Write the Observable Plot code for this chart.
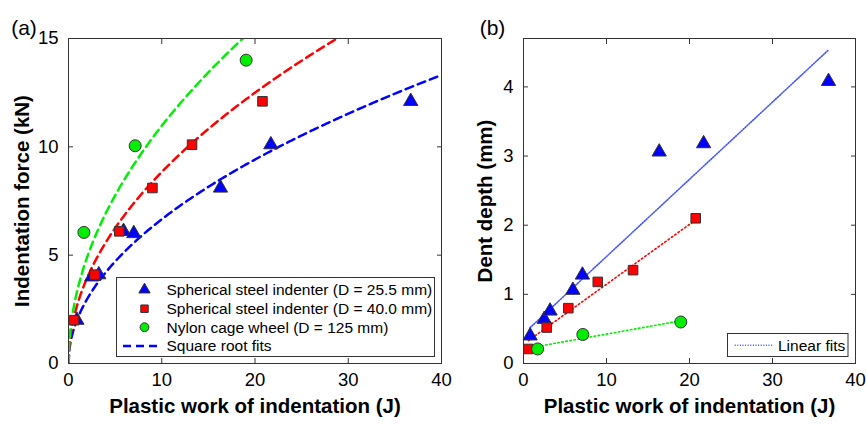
<!DOCTYPE html>
<html>
<head>
<meta charset="utf-8">
<script src="https://cdn.jsdelivr.net/npm/d3@7"></script>
<script src="https://cdn.jsdelivr.net/npm/@observablehq/plot@0.6"></script>
<style>
  html, body { margin: 0; padding: 0; background: #fff; }
  #wrap { position: relative; width: 866px; height: 424px; overflow: hidden; font-family: "Liberation Sans", Arial, Helvetica, sans-serif; }
  #wrap > div { position: absolute; top: 0; }
  #pa { left: 0; z-index: 2; }
  #pb { left: 446px; z-index: 1; }
  svg { background: transparent !important; overflow: visible; }
</style>
</head>
<body>
<div id="wrap"><div id="pa"></div><div id="pb"></div></div>
<script>
// ---- Data ----
// Spherical steel indenter D = 25.5 mm
const workA255 = [0.9, 2.5, 3.25, 5.9, 7.0, 16.3, 21.7, 36.7];
const forceA255 = [2.0, 4.0, 4.1, 6.1, 6.0, 8.1, 10.1, 12.1];
// Spherical steel indenter D = 40.0 mm
const workA400 = [0.6, 2.8, 5.45, 9.0, 13.25, 20.8];
const forceA400 = [2.0, 4.1, 6.1, 8.1, 10.1, 12.1];
// Nylon cage wheel D = 125 mm
const workA125 = [1.65, 7.15, 19.05];
const forceA125 = [6.05, 10.05, 14.0];

// Panel (b): dent depth
const workB255 = [0.8, 2.5, 3.2, 5.95, 7.1, 16.35, 21.7, 36.75];
const depthB255 = [0.40, 0.64, 0.76, 1.06, 1.28, 3.06, 3.18, 4.08];
const workB400 = [0.6, 2.8, 5.4, 8.95, 13.2, 20.75];
const depthB400 = [0.21, 0.52, 0.80, 1.18, 1.35, 2.10];
const workB125 = [1.7, 7.15, 18.95];
const depthB125 = [0.21, 0.42, 0.60];

// Fit coefficients
const sqrtFitCoef = [2.105, 2.795, 3.469];         // F = a * sqrt(W): 25.5, 40.0, 125 mm
const linFitSlope = [0.1117, 0.0866, 0.0215];
const linFitIntercept = [0.43, 0.28, 0.21];
const linFitRange = [[0.8, 36.75], [0.6, 20.75], [1.7, 18.95]];

const seriesNames = ["Spherical steel indenter (D = 25.5 mm)", "Spherical steel indenter (D = 40.0 mm)", "Nylon cage wheel (D = 125 mm)"];
const seriesColors = ["#0000ff", "#ff0000", "#00ee00"];
const seriesSymbols = ["triangle", "square", "circle"];
const seriesR = [5.3, 5.4, 6.0];

const xTicks = [0, 10, 20, 30, 40];
const yTicksA = [0, 5, 10, 15];
const yTicksB = [0, 1, 2, 3, 4];

const FONT = '"Liberation Sans", Arial, Helvetica, sans-serif';
const TICK_FS = 18.5, LABEL_FS = 20.5, LEGEND_FS = 15.5;

function pts(xs, ys, s) { return xs.map((x, i) => ({x, y: ys[i], s})); }
const dataA = [pts(workA255, forceA255, 0), pts(workA400, forceA400, 1), pts(workA125, forceA125, 2)];
const dataB = [pts(workB255, depthB255, 0), pts(workB400, depthB400, 1), pts(workB125, depthB125, 2)];

const sampleW = d3.range(0, 40.001, 0.1);
const sqrtCurves = sqrtFitCoef.map((a, s) => sampleW.map(w => ({x: w, y: a * Math.sqrt(w), s})));
const linLines = linFitSlope.map((m, s) => linFitRange[s].map(w => ({x: w, y: linFitIntercept[s] + m * w, s})));

function dotMarks(data) {
  return data.map((d, s) => Plot.dot(d, {
    x: "x", y: "y", symbol: () => seriesSymbols[s], r: seriesR[s],
    fill: seriesColors[s], stroke: "#333", strokeWidth: 1
  }));
}

const fmt = d3.format("d");
function axes(yTicks) {
  return [
    Plot.axisX({anchor: "bottom", ticks: xTicks, tickFormat: fmt, tickSize: 0, tickPadding: 9, fontSize: TICK_FS, label: null}),
    Plot.axisX({anchor: "bottom", ticks: xTicks.slice(1, -1), tickSize: -5, text: null, label: null, stroke: "#333"}),
    Plot.axisX({anchor: "top", ticks: xTicks.slice(1, -1), tickSize: -5, text: null, label: null, stroke: "#333"}),
    Plot.axisY({anchor: "left", ticks: yTicks, tickFormat: fmt, tickSize: 0, tickPadding: 10, fontSize: TICK_FS, label: null}),
    Plot.axisY({anchor: "left", ticks: yTicks.slice(1), tickSize: -5, text: null, label: null, stroke: "#333"}),
    Plot.axisY({anchor: "right", ticks: yTicks.slice(1), tickSize: -5, text: null, label: null, stroke: "#333"}),
    Plot.frame({stroke: "#333", strokeWidth: 1})
  ];
}

// Legend as a custom render mark (pixel layout only)
function legendA() {
  return () => {
    const g = d3.create("svg:g").attr("font-family", FONT).attr("font-size", LEGEND_FS).attr("text-anchor", "start");
    g.append("rect").attr("x", 116.5).attr("y", 277.5).attr("width", 318).attr("height", 79)
      .attr("fill", "#fff").attr("stroke", "#333");
    const rows = [289.7, 308.7, 327.2, 346];
    const symMap = {triangle: d3.symbolTriangle, square: d3.symbolSquare, circle: d3.symbolCircle};
    seriesNames.forEach((name, s) => {
      const r = s === 2 ? 4.4 : 4.2;
      g.append("path").attr("d", d3.symbol(symMap[seriesSymbols[s]], Math.PI * r * r)())
        .attr("transform", `translate(144.5,${rows[s]})`)
        .attr("fill", seriesColors[s]).attr("stroke", "#333").attr("stroke-width", 1);
      g.append("text").attr("x", 166.5).attr("y", rows[s]).attr("dy", "0.35em").text(name);
    });
    g.append("line").attr("x1", 123).attr("x2", 162).attr("y1", rows[3]).attr("y2", rows[3])
      .attr("stroke", seriesColors[0]).attr("stroke-width", 2.5).attr("stroke-dasharray", "8,5");
    g.append("text").attr("x", 166.5).attr("y", rows[3]).attr("dy", "0.35em").text("Square root fits");
    return g.node();
  };
}
function legendB() {
  return () => {
    const g = d3.create("svg:g").attr("font-family", FONT).attr("font-size", LEGEND_FS).attr("text-anchor", "start");
    g.append("rect").attr("x", 281.5).attr("y", 333.5).attr("width", 120.5).attr("height", 23)
      .attr("fill", "#fff").attr("stroke", "#333");
    g.append("line").attr("x1", 288.7).attr("x2", 327).attr("y1", 345.3).attr("y2", 345.3)
      .attr("stroke", "#4455ff").attr("stroke-width", 1.6).attr("stroke-dasharray", "1,1.6");
    g.append("text").attr("x", 332).attr("y", 345.3).attr("dy", "0.35em").text("Linear fits");
    return g.node();
  };
}

const common = {
  height: 424, marginTop: 38, marginBottom: 61,
  style: {fontFamily: FONT, fontSize: "18px", color: "#000", background: "transparent", overflow: "visible"}
};

const plotA = Plot.plot({
  ...common,
  width: 446, marginLeft: 68, marginRight: 5,
  x: {domain: [0, 40]},
  y: {domain: [0, 15]},
  marks: [
    ...sqrtCurves.map((c, s) => Plot.line(c, {x: "x", y: "y", stroke: seriesColors[s], strokeWidth: 2.5, strokeDasharray: "8,5", clip: true})),
    ...dotMarks(dataA),
    ...axes(yTicksA),
    legendA(),
    Plot.text(["Plastic work of indentation (J)"], {frameAnchor: "bottom", dy: 49, fontWeight: "bold", fontSize: LABEL_FS}),
    Plot.text(["Indentation force (kN)"], {frameAnchor: "left", textAnchor: "middle", dx: -46, rotate: -90, fontWeight: "bold", fontSize: LABEL_FS}),
    Plot.text(["(a)"], {frameAnchor: "top-left", textAnchor: "middle", dx: -44.5, dy: -18, fontSize: 21})
  ]
});
document.getElementById("pa").appendChild(plotA);

const plotB = Plot.plot({
  ...common,
  width: 420, marginLeft: 77, marginRight: 11,
  x: {domain: [0, 40]},
  y: {domain: [0, 4.7]},
  marks: [
    Plot.line(linLines[0], {x: "x", y: "y", stroke: "#4455ff", strokeWidth: 1.6, strokeDasharray: "1,1.6"}),
    Plot.line(linLines[1], {x: "x", y: "y", stroke: seriesColors[1], strokeWidth: 1.6, strokeDasharray: "1.5,2.6"}),
    Plot.line(linLines[2], {x: "x", y: "y", stroke: seriesColors[2], strokeWidth: 1.6, strokeDasharray: "1.5,2.6"}),
    ...dotMarks(dataB),
    ...axes(yTicksB),
    legendB(),
    Plot.text(["Plastic work of indentation (J)"], {frameAnchor: "bottom", dy: 49, fontWeight: "bold", fontSize: LABEL_FS}),
    Plot.text(["Dent depth (mm)"], {frameAnchor: "left", textAnchor: "middle", dx: -38, rotate: -90, fontWeight: "bold", fontSize: LABEL_FS}),
    Plot.text(["(b)"], {frameAnchor: "top-left", textAnchor: "middle", dx: -31, dy: -18, fontSize: 21})
  ]
});
document.getElementById("pb").appendChild(plotB);
</script>
</body>
</html>
